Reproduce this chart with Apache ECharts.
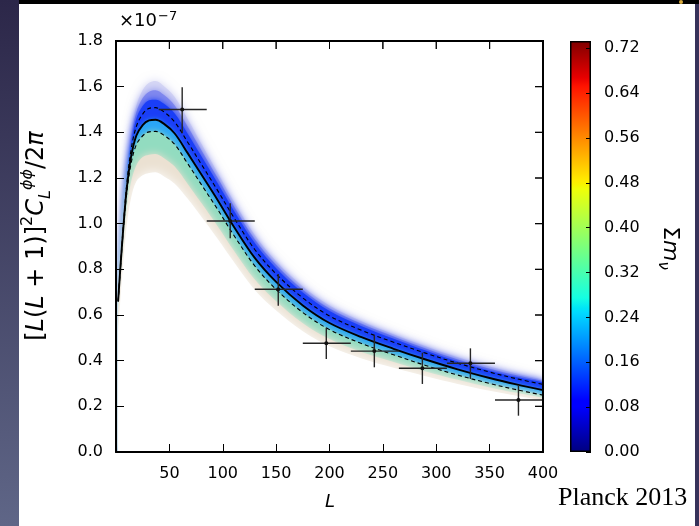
<!DOCTYPE html>
<html><head><meta charset="utf-8">
<script src="https://cdn.jsdelivr.net/npm/echarts@6/dist/echarts.min.js"></script>
<style>html,body{margin:0;padding:0;background:#fff;}#c{width:699px;height:526px;}</style>
</head><body><div id="c"></div>
<script>
// multipole grid for the theory curves and band
const Lgrid = [2, 4, 7, 10, 14, 19, 25, 31, 37, 45, 55, 67, 80, 95, 110, 130, 150, 175, 200, 230, 260, 290, 320, 350, 375, 400];
// best-fit theory curve (units of 1e-7) and its dashed envelope
const theory   = [0.66, 0.80, 0.99, 1.15, 1.29, 1.385, 1.432, 1.452, 1.455, 1.437, 1.395, 1.31, 1.215, 1.105, 0.99, 0.85, 0.745, 0.642, 0.565, 0.503, 0.452, 0.405, 0.362, 0.324, 0.296, 0.271];
const theoryHi = [0.663, 0.806, 1.002, 1.17, 1.32, 1.425, 1.48, 1.505, 1.508, 1.489, 1.445, 1.358, 1.26, 1.147, 1.03, 0.887, 0.78, 0.675, 0.596, 0.533, 0.481, 0.433, 0.389, 0.35, 0.321, 0.296];
const theoryLo = [0.657, 0.794, 0.978, 1.13, 1.26, 1.345, 1.385, 1.402, 1.404, 1.387, 1.347, 1.264, 1.171, 1.064, 0.952, 0.815, 0.712, 0.611, 0.536, 0.475, 0.426, 0.379, 0.337, 0.30, 0.273, 0.249];
// edges of the sample band (coloured by sum of neutrino masses)
const bandTop    = [0.70, 0.87, 1.08, 1.25, 1.40, 1.515, 1.585, 1.617, 1.625, 1.602, 1.555, 1.46, 1.35, 1.225, 1.10, 0.95, 0.835, 0.725, 0.642, 0.573, 0.516, 0.463, 0.415, 0.374, 0.344, 0.317];
const bandMid    = [0.685, 0.85, 1.055, 1.225, 1.375, 1.487, 1.55, 1.578, 1.584, 1.563, 1.518, 1.427, 1.322, 1.202, 1.08, 0.932, 0.82, 0.711, 0.629, 0.562, 0.506, 0.453, 0.405, 0.365, 0.336, 0.311];
const bandBlue   = [0.67, 0.83, 1.03, 1.20, 1.35, 1.46, 1.515, 1.54, 1.543, 1.525, 1.482, 1.395, 1.295, 1.179, 1.06, 0.915, 0.805, 0.698, 0.617, 0.551, 0.496, 0.444, 0.396, 0.356, 0.328, 0.305];
const bandGreen  = [0.62, 0.74, 0.91, 1.06, 1.18, 1.255, 1.292, 1.302, 1.305, 1.287, 1.25, 1.175, 1.09, 0.99, 0.885, 0.755, 0.66, 0.564, 0.495, 0.438, 0.394, 0.353, 0.316, 0.283, 0.259, 0.237];
const bandBottom = [0.52, 0.66, 0.84, 0.99, 1.11, 1.185, 1.212, 1.222, 1.225, 1.207, 1.175, 1.11, 1.03, 0.935, 0.835, 0.71, 0.62, 0.529, 0.463, 0.41, 0.369, 0.332, 0.298, 0.268, 0.246, 0.226];
// Planck 2013 bandpowers
const binCenter = [62, 107, 152, 197, 242, 287, 332, 377];
const binLo     = [40, 85, 130, 175, 220, 265, 310, 355];
const binHi     = [85, 130, 175, 220, 265, 310, 355, 400];
const power     = [1.50, 1.012, 0.713, 0.476, 0.442, 0.367, 0.389, 0.228];
const powerLo   = [1.396, 0.936, 0.641, 0.407, 0.371, 0.298, 0.32, 0.159];
const powerHi   = [1.597, 1.089, 0.78, 0.544, 0.512, 0.435, 0.454, 0.293];
// axis ticks
const xTickLabels = ['50', '100', '150', '200', '250', '300', '350', '400'];
const yTickLabels = ['0.0', '0.2', '0.4', '0.6', '0.8', '1.0', '1.2', '1.4', '1.6', '1.8'];
const cbarTickLabels = ['0.00', '0.08', '0.16', '0.24', '0.32', '0.40', '0.48', '0.56', '0.64', '0.72'];
const cbarMax = 0.733;

const zip = a => Lgrid.map((l, i) => [l, a[i]]);
const FONT = 'DejaVu Sans';
const chart = echarts.init(document.getElementById('c'), null, {renderer: 'canvas'});

function fill(arr, color, z, blur) {
  return {type: 'line', data: zip(arr), smooth: 0.35, symbol: 'none', silent: true, z: z,
    lineStyle: {width: 0},
    areaStyle: {color: color, opacity: 1, shadowBlur: blur, shadowColor: color}};
}
function curve(arr, width, type, z) {
  return {type: 'line', data: zip(arr), smooth: 0.35, symbol: 'none', silent: true, z: z,
    lineStyle: {width: width, color: '#000', type: type}};
}
const jet = [
  [0, '#00007f'], [0.11, '#0000ff'], [0.125, '#0000ff'], [0.34, '#00dbff'], [0.35, '#00e5f7'],
  [0.375, '#15ffe2'], [0.64, '#efff08'], [0.65, '#f7f500'], [0.66, '#ffec00'], [0.89, '#ff1300'],
  [0.91, '#e80000'], [1, '#7f0000']
].map(s => ({offset: s[0], color: s[1]}));

const xTickVals = xTickLabels.map(Number);
const yTickVals = yTickLabels.map(Number);

const option = {
  animation: false,
  backgroundColor: '#ffffff',
  grid: [
    {left: 116, right: 156, top: 41, bottom: 74},
    {left: 570, width: 21, top: 41, bottom: 74}
  ],
  xAxis: [
    {type: 'value', gridIndex: 0, min: 0, max: 400, interval: 50, position: 'bottom', z: 30,
      axisLine: {show: true, onZero: false, lineStyle: {color: '#000', width: 2}},
      axisTick: {show: true, inside: true, length: 8, lineStyle: {color: '#000', width: 1}},
      splitLine: {show: false},
      axisLabel: {show: true, margin: 14, color: '#000', fontFamily: FONT, fontSize: 16,
        formatter: v => (v === 0 ? '' : xTickLabels[v / 50 - 1])}},
    {type: 'category', gridIndex: 1, data: ['c'], show: false}
  ],
  yAxis: [
    {type: 'value', gridIndex: 0, min: 0, max: 1.8, interval: 0.2, position: 'left', z: 30,
      axisLine: {show: true, onZero: false, lineStyle: {color: '#000', width: 2}},
      axisTick: {show: true, inside: true, length: 8, lineStyle: {color: '#000', width: 1}},
      splitLine: {show: false},
      axisLabel: {show: true, margin: 13, color: '#000', fontFamily: FONT, fontSize: 16,
        formatter: v => yTickLabels[Math.round(v / 0.2)]}},
    {type: 'value', gridIndex: 1, min: 0, max: cbarMax, interval: 0.08, position: 'right', z: 30,
      axisLine: {show: false}, splitLine: {show: false},
      axisTick: {show: true, inside: true, length: 5, lineStyle: {color: '#000', width: 1}},
      axisLabel: {show: true, margin: 13, color: '#000', fontFamily: FONT, fontSize: 16, showMaxLabel: false,
        formatter: v => { const i = Math.round(v / 0.08); return Math.abs(v - i * 0.08) < 1e-6 ? cbarTickLabels[i] : ''; }}}
  ],
  series: [
    fill(bandTop, '#d6d7f5', 1, 10),
    fill(bandMid, '#8088ee', 2, 8),
    fill(bandBlue, '#1a3ef7', 3, 6),
    fill(theory, '#2aa6f6', 4, 5),
    fill(theoryLo, '#92dcc0', 5, 6),
    fill(bandGreen, '#ebe1d2', 6, 8),
    fill(bandBottom, '#ffffff', 7, 12),
    curve(theoryHi, 1.1, [4, 3], 12),
    curve(theoryLo, 1.1, [4, 3], 12),
    curve(theory, 1.9, 'solid', 13),
    {type: 'custom', xAxisIndex: 0, yAxisIndex: 0, z: 14, silent: true,
      data: binCenter.map((l, i) => [l, power[i], binLo[i], binHi[i], powerLo[i], powerHi[i]]),
      renderItem: (params, api) => {
        const c = api.coord([api.value(0), api.value(1)]);
        const a = api.coord([api.value(2), api.value(1)]);
        const b = api.coord([api.value(3), api.value(1)]);
        const lo = api.coord([api.value(0), api.value(4)]);
        const hi = api.coord([api.value(0), api.value(5)]);
        const st = {stroke: '#262626', lineWidth: 1.4};
        return {type: 'group', children: [
          {type: 'line', shape: {x1: a[0], y1: a[1], x2: b[0], y2: b[1]}, style: st},
          {type: 'line', shape: {x1: lo[0], y1: lo[1], x2: hi[0], y2: hi[1]}, style: st},
          {type: 'circle', shape: {cx: c[0], cy: c[1], r: 2}, style: {fill: '#111'}}
        ]};
      }},
    // top and right frame with inward ticks (mirrors of the x / y axes)
    {type: 'custom', xAxisIndex: 0, yAxisIndex: 0, z: 30, silent: true, data: [[200, 0.9]],
      renderItem: (params, api) => {
        const tl = api.coord([0, 1.8]), tr = api.coord([400, 1.8]), br = api.coord([400, 0]);
        const kids = [{type: 'polyline', shape: {points: [[tl[0] - 1, tl[1]], tr, [br[0], br[1] + 1]]},
          style: {stroke: '#000', lineWidth: 2, fill: null}}];
        xTickVals.forEach(v => { const p = api.coord([v, 1.8]); kids.push({type: 'line', shape: {x1: p[0], y1: p[1], x2: p[0], y2: p[1] + 8}, style: {stroke: '#000', lineWidth: 1}}); });
        yTickVals.forEach(v => { const p = api.coord([400, v]); kids.push({type: 'line', shape: {x1: p[0], y1: p[1], x2: p[0] - 8, y2: p[1]}, style: {stroke: '#000', lineWidth: 1}}); });
        return {type: 'group', children: kids};
      }},
    {type: 'bar', xAxisIndex: 1, yAxisIndex: 1, data: [cbarMax], barWidth: '100%', silent: true, z: 5,
      itemStyle: {color: new echarts.graphic.LinearGradient(0, 1, 0, 0, jet), borderColor: '#000', borderWidth: 1.5}}
  ],
  graphic: [
    {type: 'rect', shape: {x: 0, y: 0, width: 699, height: 4}, style: {fill: '#000'}, silent: true},
    {type: 'rect', shape: {x: 0, y: 0, width: 19, height: 526}, silent: true,
      style: {fill: new echarts.graphic.LinearGradient(0, 0, 0, 1, [{offset: 0, color: '#2c2749'}, {offset: 1, color: '#5f6687'}])}},
    {type: 'rect', shape: {x: 695, y: 4, width: 4, height: 522}, style: {fill: '#37325a'}, silent: true},
    {type: 'circle', shape: {cx: 681, cy: 2, r: 2}, style: {fill: '#d9aa3c'}, silent: true},
    {type: 'text', left: 119, top: 10, silent: true,
      style: {text: '×10{s|−7}', fill: '#000', font: '18px "DejaVu Sans"',
        rich: {s: {fontSize: 13, fontFamily: FONT, verticalAlign: 'top', padding: [0, 0, 10, 1]}}}},
    {type: 'text', x: 37, y: 236, rotation: Math.PI / 2, silent: true,
      style: {text: '[{i|L}({i|L} + 1)]{n|2}{i|C}{sub|L}{sup|ϕϕ}/2{i|π}', fill: '#000',
        font: '24px "DejaVu Sans"', align: 'center', verticalAlign: 'middle',
        rich: {
          i: {fontStyle: 'italic', fontSize: 24, fontFamily: FONT, lineHeight: 34},
          n: {fontSize: 16, fontFamily: FONT, verticalAlign: 'top', lineHeight: 34},
          sup: {fontSize: 16, fontFamily: FONT, fontStyle: 'italic', verticalAlign: 'top', lineHeight: 34},
          sub: {fontSize: 16, fontFamily: FONT, fontStyle: 'italic', verticalAlign: 'bottom', lineHeight: 26}
        }}},
    {type: 'text', x: 670, y: 248, rotation: -Math.PI / 2, silent: true,
      style: {text: 'Σ{i|m}{sub|ν}', fill: '#000', font: '22px "DejaVu Sans"', align: 'center', verticalAlign: 'middle',
        rich: {i: {fontStyle: 'italic', fontSize: 22, fontFamily: FONT, lineHeight: 29},
               sub: {fontStyle: 'italic', fontSize: 15, fontFamily: FONT, verticalAlign: 'bottom', lineHeight: 23}}}},
    {type: 'text', x: 330, y: 502, silent: true,
      style: {text: 'L', fill: '#000', font: 'italic 18px "DejaVu Sans"', align: 'center', verticalAlign: 'middle'}},
    {type: 'text', x: 558, y: 498, silent: true,
      style: {text: 'Planck 2013', fill: '#000', font: '26px "Liberation Serif"', align: 'left', verticalAlign: 'middle'}}
  ]
};
chart.setOption(option);
// frame also as graphic (positions from the library's own scale)
const pTL = chart.convertToPixel({gridIndex: 0}, [0, 1.8]);
const pBR = chart.convertToPixel({gridIndex: 0}, [400, 0]);
const frameEls = [{type: 'polyline', silent: true, z: 50,
  shape: {points: [[pTL[0] - 1, pTL[1]], [pBR[0], pTL[1]], [pBR[0], pBR[1] + 1]]}, style: {stroke: '#000', lineWidth: 2, fill: null}}];
xTickVals.forEach(v => { const p = chart.convertToPixel({gridIndex: 0}, [v, 1.8]);
  frameEls.push({type: 'line', silent: true, z: 50, shape: {x1: p[0], y1: p[1], x2: p[0], y2: p[1] + 8}, style: {stroke: '#000', lineWidth: 1}}); });
yTickVals.forEach(v => { const p = chart.convertToPixel({gridIndex: 0}, [400, v]);
  frameEls.push({type: 'line', silent: true, z: 50, shape: {x1: p[0], y1: p[1], x2: p[0] - 8, y2: p[1]}, style: {stroke: '#000', lineWidth: 1}}); });
chart.setOption({graphic: option.graphic.concat(frameEls)});
</script></body></html>
